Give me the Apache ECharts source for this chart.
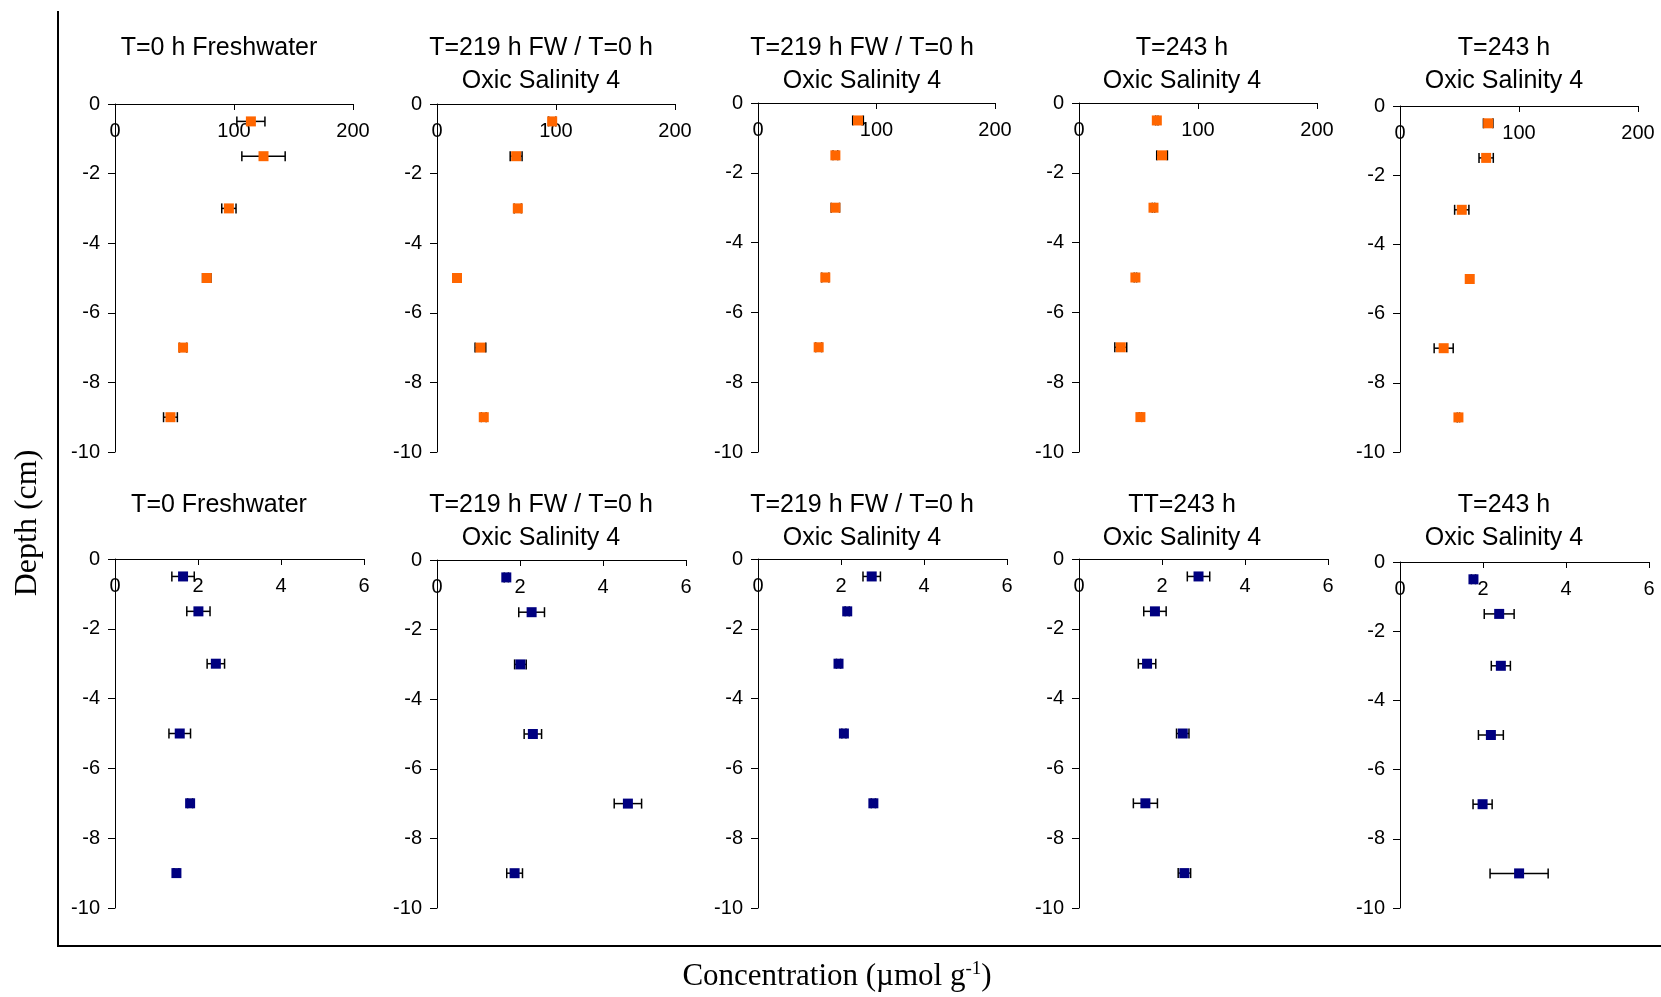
<!DOCTYPE html>
<html>
<head>
<meta charset="utf-8">
<script src="https://cdn.jsdelivr.net/npm/echarts@6/dist/echarts.min.js"></script>
<style>
  html, body { margin: 0; padding: 0; background: #fff; }
  #chart { width: 1661px; height: 997px; }
</style>
</head>
<body>
<div id="chart"></div>
<script>
// Sampling depths (cm), shared by every profile
const depths = [-0.5, -1.5, -3, -5, -7, -9];

// Panel titles
const topTitles = [
  'T=0 h Freshwater',
  'T=219 h FW / T=0 h\nOxic Salinity 4',
  'T=219 h FW / T=0 h\nOxic Salinity 4',
  'T=243 h\nOxic Salinity 4',
  'T=243 h\nOxic Salinity 4'
];
const bottomTitles = [
  'T=0 Freshwater',
  'T=219 h FW / T=0 h\nOxic Salinity 4',
  'T=219 h FW / T=0 h\nOxic Salinity 4',
  'TT=243 h\nOxic Salinity 4',
  'T=243 h\nOxic Salinity 4'
];

// Upper row: mean concentration and standard error at each depth
const topMeans = [
  [114.2, 124.8, 95.7, 77.1, 57.2, 46.6],
  [96.8, 66.5, 67.9, 16.8, 36.5, 39.3],
  [84.4, 65.3, 65.3, 56.8, 51.2, null],
  [65.4, 69.8, 62.6, 47.4, 35.1, 51.6],
  [74.1, 72.4, 51.9, 58.6, 36.7, 49.1]
];
const topErrors = [
  [11.8, 18.2, 6.0, 3.5, 3.0, 5.8],
  [3.0, 5.0, 3.0, 2.0, 4.5, 2.0],
  [4.5, 2.0, 3.5, 3.0, 2.5, null],
  [1.0, 4.5, 1.0, 1.0, 5.0, 1.0],
  [4.0, 6.0, 6.0, 1.0, 8.0, 1.0]
];

// Lower row: mean concentration and standard error at each depth
const bottomMeans = [
  [1.64, 2.01, 2.43, 1.56, 1.81, 1.48],
  [1.67, 2.28, 2.01, 2.31, 4.60, 1.87],
  [2.74, 2.15, 1.94, 2.07, 2.78, null],
  [2.88, 1.83, 1.64, 2.50, 1.60, 2.54],
  [1.77, 2.39, 2.43, 2.19, 1.99, 2.87]
];
const bottomErrors = [
  [0.27, 0.28, 0.21, 0.26, 0.06, 0.06],
  [0.05, 0.31, 0.14, 0.21, 0.33, 0.19],
  [0.21, 0.05, 0.05, 0.05, 0.05, null],
  [0.27, 0.27, 0.21, 0.15, 0.29, 0.15],
  [0.05, 0.36, 0.23, 0.30, 0.23, 0.70]
];

// Axis ranges
const topXMax = 200, topXStep = 100;
const bottomXMax = 6, bottomXStep = 2;
const depthMin = -10, depthMax = 0, depthStep = 2;

// Plot-area rectangles for each panel [left, top, width, height]
const topRects = [
  [115, 104, 238, 348],
  [437, 104, 238, 348],
  [758, 103, 237, 349],
  [1079, 103, 238, 349],
  [1400, 106, 238, 346]
];
const bottomRects = [
  [115, 559, 249, 349],
  [437, 560, 249, 348],
  [758, 559, 249, 349],
  [1079, 559, 249, 349],
  [1400, 562, 249, 346]
];
const titleCenters = [219, 541, 862, 1182, 1504];

const SANS = '"Liberation Sans", Arial, sans-serif';
const SERIF = '"Liberation Serif", "Times New Roman", serif';

const grid = [], xAxis = [], yAxis = [], series = [], graphic = [];

function addPanel(rect, xMax, xStep, means, errs, color) {
  const idx = grid.length;
  grid.push({ left: rect[0], top: rect[1], width: rect[2], height: rect[3], containLabel: false });
  xAxis.push({
    gridIndex: idx, type: 'value', position: 'top', min: 0, max: xMax, interval: xStep,
    axisLine: { show: true, onZero: false, lineStyle: { color: '#000', width: 1 } },
    axisTick: { show: true, inside: true, length: 6, lineStyle: { color: '#000' } },
    axisLabel: { inside: true, margin: 17, color: '#000', fontSize: 20, fontFamily: SANS },
    splitLine: { show: false }
  });
  yAxis.push({
    gridIndex: idx, type: 'value', min: depthMin, max: depthMax, interval: depthStep,
    axisLine: { show: true, onZero: false, lineStyle: { color: '#000', width: 1 } },
    axisTick: { show: true, inside: false, length: 7, lineStyle: { color: '#000' } },
    axisLabel: { margin: 15, color: '#000', fontSize: 20, fontFamily: SANS },
    splitLine: { show: false }
  });
  const pts = [], bars = [];
  depths.forEach((d, i) => {
    if (means[i] == null) return;
    pts.push([means[i], d]);
    bars.push([means[i], d, errs[i]]);
  });
  // Horizontal error bars (mean ± error), drawn beneath the markers
  series.push({
    type: 'custom', xAxisIndex: idx, yAxisIndex: idx, z: 2, silent: true,
    data: bars,
    renderItem: function (params, api) {
      const x = api.value(0), y = api.value(1), e = api.value(2);
      const a = api.coord([x - e, y]);
      const b = api.coord([x + e, y]);
      const cap = 5;
      const st = { stroke: '#000', lineWidth: 1.5 };
      return {
        type: 'group',
        children: [
          { type: 'line', shape: { x1: a[0], y1: a[1], x2: b[0], y2: b[1] }, style: st },
          { type: 'line', shape: { x1: a[0], y1: a[1] - cap, x2: a[0], y2: a[1] + cap }, style: st },
          { type: 'line', shape: { x1: b[0], y1: b[1] - cap, x2: b[0], y2: b[1] + cap }, style: st }
        ]
      };
    }
  });
  series.push({
    type: 'scatter', xAxisIndex: idx, yAxisIndex: idx, z: 3, silent: true,
    symbol: 'rect', symbolSize: 10,
    itemStyle: { color: color, opacity: 1 },
    data: pts
  });
}

for (let i = 0; i < 5; i++) {
  addPanel(topRects[i], topXMax, topXStep, topMeans[i], topErrors[i], '#FF6600');
  addPanel(bottomRects[i], bottomXMax, bottomXStep, bottomMeans[i], bottomErrors[i], '#000080');
  graphic.push({
    type: 'text', x: titleCenters[i], y: 32,
    style: { text: topTitles[i], textAlign: 'center', textVerticalAlign: 'top',
             font: '25px ' + SANS, fill: '#000', lineHeight: 33 }
  });
  graphic.push({
    type: 'text', x: titleCenters[i], y: 489,
    style: { text: bottomTitles[i], textAlign: 'center', textVerticalAlign: 'top',
             font: '25px ' + SANS, fill: '#000', lineHeight: 33 }
  });
}

// Outer frame: left and bottom rules
graphic.push({ type: 'line', shape: { x1: 58, y1: 11, x2: 58, y2: 947 }, style: { stroke: '#000', lineWidth: 2 } });
graphic.push({ type: 'line', shape: { x1: 57, y1: 946, x2: 1661, y2: 946 }, style: { stroke: '#000', lineWidth: 2 } });

// Shared axis titles
graphic.push({
  type: 'text', x: 28, y: 523, rotation: Math.PI / 2,
  style: { text: 'Depth (cm)', textAlign: 'center', textVerticalAlign: 'middle',
           font: '32px ' + SERIF, fill: '#000' }
});
graphic.push({
  type: 'text', x: 837, y: 977,
  style: {
    text: '{a|Concentration (\u00b5mol g}{s|-1}{a|)}',
    textAlign: 'center', textVerticalAlign: 'middle',
    rich: {
      a: { fontSize: 31, fontFamily: SERIF, fill: '#000', color: '#000' },
      s: { fontSize: 19, fontFamily: SERIF, fill: '#000', color: '#000', padding: [0, 0, 16, 0] }
    }
  }
});

const chart = echarts.init(document.getElementById('chart'), null, { renderer: 'canvas' });
chart.setOption({
  animation: false,
  backgroundColor: '#fff',
  grid: grid,
  xAxis: xAxis,
  yAxis: yAxis,
  series: series,
  graphic: graphic
});
</script>
</body>
</html>
